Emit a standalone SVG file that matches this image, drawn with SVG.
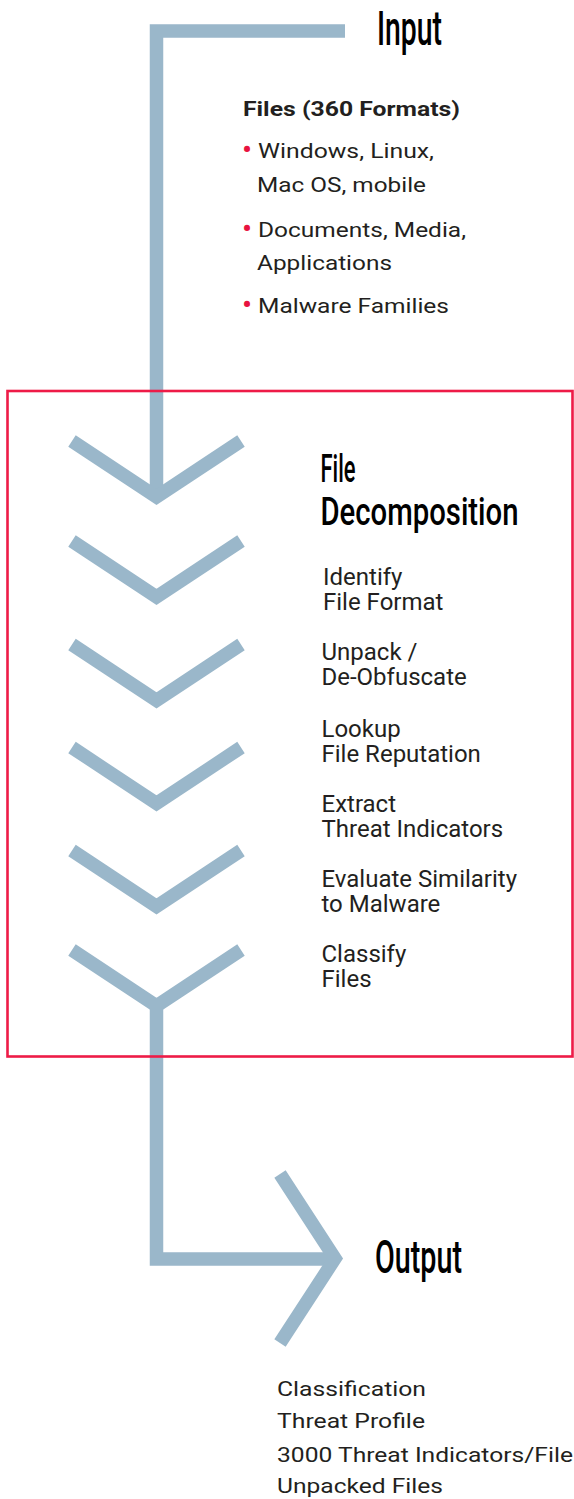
<svg xmlns="http://www.w3.org/2000/svg" width="574" height="1499" viewBox="0 0 574 1499">
  <style>
    .flow { fill: none; stroke: #9ab7ca; stroke-width: 13.5; stroke-linejoin: miter; stroke-miterlimit: 10; stroke-linecap: butt; }
    .title { font-family: Roboto, "Liberation Sans", sans-serif; font-weight: 500; fill: #000; }
    .body { font-family: Roboto, "Liberation Sans", sans-serif; fill: #231f20; font-size: 21px; }
    .step { font-family: Roboto, "Liberation Sans", sans-serif; fill: #231f20; font-size: 24px; }
    .bold { font-family: Roboto, "Liberation Sans", sans-serif; fill: #231f20; font-size: 20px; font-weight: 700; }
    .bullet { font-family: Roboto, "Liberation Sans", sans-serif; fill: #e8123f; font-size: 30px; }
  </style>
  <rect width="574" height="1499" fill="#ffffff"/>

  <g id="connectors">
    <path class="flow" d="M345 31 H156.5 V497"/>
    <path class="flow" d="M72 441 L156.5 497 L241 441"/>
    <path class="flow" d="M72 541 L156.5 597 L241 541"/>
    <path class="flow" d="M72 644.5 L156.5 700.5 L241 644.5"/>
    <path class="flow" d="M72 747.5 L156.5 803.5 L241 747.5"/>
    <path class="flow" d="M72 850.5 L156.5 906.5 L241 850.5"/>
    <path class="flow" d="M72 950 L156.5 1006 L241 950"/>
    <path class="flow" d="M156.5 1006 V1259 H335"/>
    <path class="flow" d="M280 1174 L335 1258.5 L280 1343"/>
  </g>

  <g id="input-node">
    <text class="title" x="377" y="45" font-size="49" textLength="65" lengthAdjust="spacingAndGlyphs">Input</text>
    <text class="bold" x="243" y="116" textLength="217" lengthAdjust="spacingAndGlyphs">Files (360 Formats)</text>
    <text class="bullet" x="242" y="160">•</text>
    <text class="body" x="258" y="158" textLength="176" lengthAdjust="spacingAndGlyphs">Windows, Linux,</text>
    <text class="body" x="257" y="191.7" textLength="169" lengthAdjust="spacingAndGlyphs">Mac OS, mobile</text>
    <text class="bullet" x="242" y="238.7">•</text>
    <text class="body" x="258" y="236.7" textLength="208" lengthAdjust="spacingAndGlyphs">Documents, Media,</text>
    <text class="body" x="257" y="270" textLength="135" lengthAdjust="spacingAndGlyphs">Applications</text>
    <text class="bullet" x="242" y="315">•</text>
    <text class="body" x="258" y="313" textLength="191" lengthAdjust="spacingAndGlyphs">Malware Families</text>
  </g>

  <g id="decomposition-node">
    <rect x="7.5" y="391" width="565" height="665.5" fill="none" stroke="#ee1b47" stroke-width="2.6"/>
    <text class="title" x="320.5" y="482" font-size="39" textLength="35" lengthAdjust="spacingAndGlyphs">File</text>
    <text class="title" x="320.5" y="525" font-size="39" textLength="198" lengthAdjust="spacingAndGlyphs">Decomposition</text>
    <g id="step-identify">
      <text class="step" x="323" y="585">Identify</text>
      <text class="step" x="323" y="610">File Format</text>
    </g>
    <g id="step-unpack">
      <text class="step" x="321.5" y="660">Unpack /</text>
      <text class="step" x="321.5" y="685">De-Obfuscate</text>
    </g>
    <g id="step-lookup">
      <text class="step" x="321.5" y="736.7">Lookup</text>
      <text class="step" x="321.5" y="761.7">File Reputation</text>
    </g>
    <g id="step-extract">
      <text class="step" x="321.5" y="811.7">Extract</text>
      <text class="step" x="321.5" y="836.7">Threat Indicators</text>
    </g>
    <g id="step-evaluate">
      <text class="step" x="321.5" y="886.7">Evaluate Similarity</text>
      <text class="step" x="321.5" y="911.7">to Malware</text>
    </g>
    <g id="step-classify">
      <text class="step" x="321.5" y="962.3">Classify</text>
      <text class="step" x="321.5" y="986.7">Files</text>
    </g>
  </g>

  <g id="output-node">
    <text class="title" x="375" y="1273" font-size="46" textLength="87" lengthAdjust="spacingAndGlyphs">Output</text>
    <text class="body" x="277" y="1395.7" textLength="149" lengthAdjust="spacingAndGlyphs">Classification</text>
    <text class="body" x="277" y="1428" textLength="148" lengthAdjust="spacingAndGlyphs">Threat Profile</text>
    <text class="body" x="277" y="1461.7" textLength="296" lengthAdjust="spacingAndGlyphs">3000 Threat Indicators/File</text>
    <text class="body" x="277" y="1493" textLength="166" lengthAdjust="spacingAndGlyphs">Unpacked Files</text>
  </g>
</svg>
